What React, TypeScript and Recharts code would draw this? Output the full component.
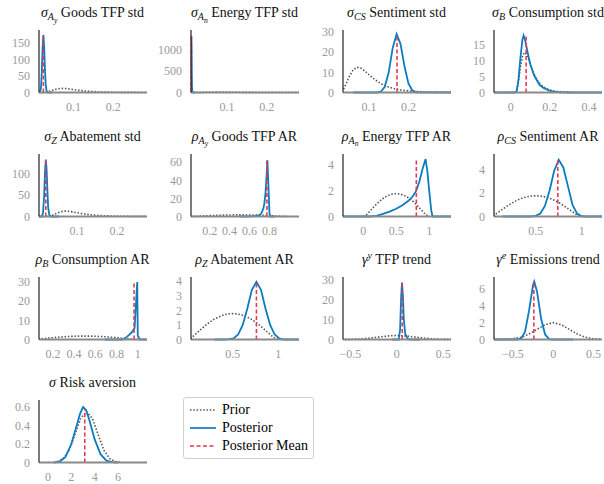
import React from "react";
import { LineChart, Line, XAxis, YAxis, ReferenceLine } from "recharts";

// shared prior densities
const sigmaGrid = [0.005, 0.01, 0.02, 0.03, 0.035, 0.04, 0.05, 0.06, 0.07, 0.08, 0.09, 0.1, 0.11, 0.12, 0.13, 0.14, 0.15, 0.16, 0.17, 0.18, 0.2, 0.22, 0.25, 0.28, 0.31];
const sigmaPrior = [0, 0, 0, 0.4, 1.5, 3.5, 8, 11.3, 12.5, 12, 10.6, 8.8, 7.1, 5.7, 4.4, 3.4, 2.7, 2.1, 1.7, 1.3, 0.8, 0.5, 0.27, 0.15, 0.08];
const rhoGrid = [0, 0.05, 0.1, 0.15, 0.2, 0.25, 0.3, 0.35, 0.4, 0.45, 0.5, 0.55, 0.6, 0.65, 0.7, 0.75, 0.8, 0.85, 0.9, 0.95, 1];
const rhoPrior = [0, 0.13, 0.4, 0.68, 0.95, 1.19, 1.4, 1.56, 1.68, 1.75, 1.77, 1.75, 1.68, 1.56, 1.4, 1.19, 0.95, 0.68, 0.4, 0.13, 0];
const gammaGrid = [-0.7, -0.6, -0.5, -0.4, -0.3, -0.2, -0.1, 0, 0.1, 0.2, 0.3, 0.4, 0.5, 0.6, 0.7];
const gammaPrior = [0.01, 0.03, 0.09, 0.27, 0.65, 1.21, 1.76, 2.0, 1.76, 1.21, 0.65, 0.27, 0.09, 0.03, 0.01];
const riskGrid = [0.8, 1.3, 1.8, 2.3, 2.8, 3.3, 3.8, 4.3, 4.8, 5.3, 5.8, 6.3];
const riskPrior = [0.01, 0.04, 0.13, 0.3, 0.48, 0.55, 0.48, 0.3, 0.13, 0.04, 0.01, 0];

// posterior densities
const sAyX = [0.013, 0.016, 0.018, 0.02, 0.022, 0.024, 0.026, 0.028, 0.03, 0.032, 0.035, 0.045];
const sAyPost = [0, 2, 15, 60, 135, 175, 140, 70, 22, 5, 0.5, 0];
const sAnX = [0.0095, 0.01, 0.0105, 0.011, 0.0115, 0.012, 0.013, 0.02];
const sAnPost = [350, 1050, 1310, 1000, 450, 120, 5, 0];
const sCSX = [0.06, 0.12, 0.13, 0.14, 0.15, 0.16, 0.17, 0.18, 0.19, 0.2, 0.21, 0.22, 0.308];
const sCSPost = [0, 0, 0.4, 2.8, 10, 22, 29, 24, 13, 4.5, 1, 0.1, 0];
const sBX = [-0.085, 0.02, 0.03, 0.04, 0.05, 0.06, 0.066, 0.075, 0.085, 0.1, 0.12, 0.147, 0.17, 0.2, 0.23, 0.26, 0.3, 0.466];
const sBPost = [0, 0, 0.3, 4, 11, 16.5, 17.8, 16, 13, 8.8, 5.3, 2.4, 1.3, 0.5, 0.15, 0.03, 0, 0];
const sZX = [0.005, 0.012, 0.015, 0.018, 0.02, 0.022, 0.024, 0.026, 0.028, 0.031, 0.035, 0.055];
const sZPost = [0, 0, 8, 50, 105, 132, 110, 60, 20, 3, 0, 0];
const rAyX = [0.5, 0.6, 0.65, 0.7, 0.72, 0.74, 0.75, 0.76, 0.77, 0.78, 0.79, 0.8, 0.81, 0.85];
const rAyPost = [0, 0.1, 0.4, 1.5, 3.5, 9, 15, 25, 42, 62, 35, 4, 0, 0];
const rAnX = [-0.306, 0.1, 0.2, 0.3, 0.4, 0.5, 0.6, 0.68, 0.75, 0.8, 0.85, 0.9, 0.945, 0.97, 1.0, 1.03, 1.05, 1.33];
const rAnPost = [0, 0, 0.05, 0.2, 0.38, 0.6, 0.9, 1.2, 1.55, 1.97, 2.7, 3.7, 4.46, 3.6, 2.0, 0.5, 0, 0];
const rCSX = [0.14, 0.45, 0.5, 0.55, 0.6, 0.65, 0.7, 0.75, 0.8, 0.85, 0.9, 0.95, 1.0, 1.05, 1.22];
const rCSPost = [0, 0, 0.05, 0.25, 0.9, 2.2, 3.9, 4.85, 4.2, 2.6, 1.0, 0.25, 0.02, 0, 0];
const rBX = [0.69, 0.8, 0.86, 0.9, 0.94, 0.97, 0.995, 1.0, 1.02, 1.087];
const rBPost = [0, 0, 0, 1.5, 3.5, 6, 30, 2, 0, 0];
const rZX = [0.3, 0.41, 0.46, 0.51, 0.56, 0.61, 0.66, 0.71, 0.76, 0.81, 0.86, 0.91, 0.96, 1.01, 1.06, 1.226];
const rZPost = [0, 0, 0.02, 0.08, 0.34, 1.0, 2.1, 3.4, 3.95, 3.4, 2.1, 1.0, 0.34, 0.08, 0, 0];
const gyX = [-0.05, 0.02, 0.035, 0.045, 0.055, 0.065, 0.075, 0.09, 0.11, 0.13, 0.15, 0.25];
const gyPost = [0, 0, 5, 20, 28.5, 22, 10, 3, 0.8, 0.1, 0, 0];
const geX = [-0.735, -0.45, -0.4, -0.35, -0.3, -0.25, -0.235, -0.2, -0.15, -0.1, -0.05, 0, 0.25];
const gePost = [0, 0, 0.1, 0.9, 3.4, 6.5, 6.9, 5.7, 2.5, 0.6, 0.05, 0, 0];
const riskX = [0.5, 1, 1.5, 2, 2.5, 2.75, 3, 3.25, 3.5, 4, 4.5, 5, 5.5, 6];
const riskPost = [0, 0.01, 0.06, 0.2, 0.42, 0.53, 0.6, 0.57, 0.48, 0.25, 0.09, 0.02, 0.004, 0];

// posterior means and the height the dashed line reaches
const means = [0.024, 0.0104, 0.171, 0.079, 0.022, 0.775, 0.805, 0.74, 0.965, 0.76, 0.058, -0.24, 3.15];
const meanTops = [175, 1310, 29, 17.8, 132, 62, 4.46, 4.85, 30, 3.95, 28.5, 6.9, 0.58];

const BLUE = "#0c7cc0";
const RED = "#ea3650";
const GREY = "#555555";
const SERIF = "'Liberation Serif', 'DejaVu Serif', serif";

const PW = 108;
const PH = 62.5;
const TOP = 8;
const colX = [38.5, 190.5, 342.5, 494];
const rowY = [30.3, 153.5, 276.8, 400];

function Sym({ b, sub, subsub, sup }: { b: string; sub?: string; subsub?: string; sup?: string }) {
  return (
    <span>
      <i>{b}</i>
      {sub && (
        <span style={{ fontSize: "72%", position: "relative", top: "0.3em" }}>
          <i>{sub}</i>
          {subsub && (
            <span style={{ fontSize: "75%", position: "relative", top: "0.3em" }}>
              <i>{subsub}</i>
            </span>
          )}
        </span>
      )}
      {sup && (
        <span style={{ fontSize: "72%", position: "relative", top: "-0.45em" }}>
          <i>{sup}</i>
        </span>
      )}{" "}
    </span>
  );
}

const panels = [
  { title: <><Sym b="σ" sub="A" subsub="y" />Goods TFP std</>, priorX: sigmaGrid, prior: sigmaPrior, postX: sAyX, post: sAyPost, xDomain: [0.013, 0.285], xTicks: [0.1, 0.2], yMax: 190, yTicks: [0, 50, 100, 150] },
  { title: <><Sym b="σ" sub="A" subsub="n" />Energy TFP std</>, priorX: sigmaGrid, prior: sigmaPrior, postX: sAnX, post: sAnPost, xDomain: [0.0095, 0.281], xTicks: [0.1, 0.2], yMax: 1458, yTicks: [0, 500, 1000] },
  { title: <><Sym b="σ" sub="CS" />Sentiment std</>, priorX: sigmaGrid, prior: sigmaPrior, postX: sCSX, post: sCSPost, xDomain: [0.034, 0.308], xTicks: [0.1, 0.2], yMax: 31, yTicks: [0, 10, 20, 30] },
  { title: <><Sym b="σ" sub="B" />Consumption std</>, priorX: sigmaGrid, prior: sigmaPrior, postX: sBX, post: sBPost, xDomain: [-0.085, 0.466], xTicks: [0, 0.2, 0.4], yMax: 19.5, yTicks: [0, 5, 10, 15] },
  { title: <><Sym b="σ" sub="Z" />Abatement std</>, priorX: sigmaGrid, prior: sigmaPrior, postX: sZX, post: sZPost, xDomain: [0.005, 0.275], xTicks: [0.1, 0.2], yMax: 145, yTicks: [0, 50, 100] },
  { title: <><Sym b="ρ" sub="A" subsub="y" />Goods TFP AR</>, priorX: rhoGrid, prior: rhoPrior, postX: rAyX, post: rAyPost, xDomain: [0.013, 1.097], xTicks: [0.2, 0.4, 0.6, 0.8], yMax: 69, yTicks: [0, 20, 40, 60] },
  { title: <><Sym b="ρ" sub="A" subsub="n" />Energy TFP AR</>, priorX: rhoGrid, prior: rhoPrior, postX: rAnX, post: rAnPost, xDomain: [-0.306, 1.33], xTicks: [0, 0.5, 1], yMax: 4.85, yTicks: [0, 2, 4] },
  { title: <><Sym b="ρ" sub="CS" />Sentiment AR</>, priorX: rhoGrid, prior: rhoPrior, postX: rCSX, post: rCSPost, xDomain: [0.047, 1.22], xTicks: [0.5, 1], yMax: 5.35, yTicks: [0, 2, 4] },
  { title: <><Sym b="ρ" sub="B" />Consumption AR</>, priorX: rhoGrid, prior: rhoPrior, postX: rBX, post: rBPost, xDomain: [0.069, 1.087], xTicks: [0.2, 0.4, 0.6, 0.8, 1], yMax: 32.6, yTicks: [0, 10, 20, 30] },
  { title: <><Sym b="ρ" sub="Z" />Abatement AR</>, priorX: rhoGrid, prior: rhoPrior, postX: rZX, post: rZPost, xDomain: [0.044, 1.226], xTicks: [0.5, 1], yMax: 4.28, yTicks: [0, 1, 2, 3, 4] },
  { title: <><Sym b="γ" sup="y" />TFP trend</>, priorX: gammaGrid, prior: gammaPrior, postX: gyX, post: gyPost, xDomain: [-0.58, 0.583], xTicks: [-0.5, 0, 0.5], yMax: 31.3, yTicks: [0, 10, 20, 30] },
  { title: <><Sym b="γ" sup="e" />Emissions trend</>, priorX: gammaGrid, prior: gammaPrior, postX: geX, post: gePost, xDomain: [-0.735, 0.607], xTicks: [-0.5, 0, 0.5], yMax: 7.44, yTicks: [0, 2, 4, 6] },
  { title: <><Sym b="σ" />Risk aversion</>, priorX: riskGrid, prior: riskPrior, postX: riskX, post: riskPost, xDomain: [-0.77, 8.48], xTicks: [0, 2, 4, 6], yMax: 0.677, yTicks: [0, 0.2, 0.4, 0.6] },
];

const fmt = (v: number) => (v < 0 ? "\u2212" + Math.abs(v) : String(v));
const tickStyle = { fill: "#9a9a9a", fontSize: 12, fontFamily: SERIF };

function Panel({ i }: { i: number }) {
  const cfg = panels[i];
  const ax = colX[i % 4];
  const ay = rowY[Math.floor(i / 4)];
  const prior = cfg.priorX.map((x, k) => ({ x, y: cfg.prior[k] }));
  const post = cfg.postX.map((x, k) => ({ x, y: cfg.post[k] }));
  return (
    <>
      <div
        style={{
          position: "absolute",
          left: ax + PW / 2 - 100,
          top: ay - 27,
          width: 200,
          height: 20,
          lineHeight: "20px",
          textAlign: "center",
          fontFamily: SERIF,
          fontSize: 14,
          whiteSpace: "nowrap",
          color: "#111",
        }}
      >
        {cfg.title}
      </div>
      <div style={{ position: "absolute", left: ax - 40, top: ay - TOP }}>
        <LineChart width={40 + PW + 3} height={TOP + PH + 24} margin={{ top: TOP, right: 3, bottom: 0, left: 0 }}>
          <XAxis
            type="number"
            dataKey="x"
            domain={cfg.xDomain}
            ticks={cfg.xTicks}
            allowDataOverflow
            interval={0}
            height={24}
            axisLine={{ stroke: "#8a8a8a", strokeWidth: 2 }}
            tickLine={false}
            tickMargin={4}
            tick={tickStyle}
            tickFormatter={fmt}
          />
          <YAxis
            type="number"
            domain={[0, cfg.yMax]}
            ticks={cfg.yTicks}
            interval={0}
            width={40}
            axisLine={{ stroke: "#222", strokeWidth: 1.2 }}
            tickLine={false}
            tickMargin={3}
            tick={tickStyle}
            tickFormatter={fmt}
          />
          <Line data={prior} dataKey="y" stroke={GREY} strokeWidth={1.6} strokeDasharray="1.5 1.8" dot={false} isAnimationActive={false} />
          <Line data={post} dataKey="y" stroke={BLUE} strokeWidth={1.8} dot={false} isAnimationActive={false} />
          <ReferenceLine
            segment={[{ x: means[i], y: 0 }, { x: means[i], y: meanTops[i] }]}
            stroke={RED}
            strokeWidth={1.6}
            strokeDasharray="4 2.5"
          />
        </LineChart>
      </div>
    </>
  );
}

function LegendBox() {
  const items = [
    { label: "Prior", stroke: GREY, dash: "1.5 1.8" },
    { label: "Posterior", stroke: BLUE, dash: undefined },
    { label: "Posterior Mean", stroke: RED, dash: "4 2.5" },
  ];
  return (
    <div
      style={{
        position: "absolute",
        left: 183,
        top: 397,
        width: 131,
        height: 62,
        boxSizing: "border-box",
        border: "1px solid #cfcfcf",
        borderRadius: 3,
        paddingTop: 3,
        fontFamily: SERIF,
        fontSize: 14,
      }}
    >
      {items.map((it) => (
        <div key={it.label} style={{ display: "flex", alignItems: "center", height: 18 }}>
          <svg width={34} height={10} style={{ marginLeft: 4 }}>
            <line x1={2} x2={28} y1={5} y2={5} stroke={it.stroke} strokeWidth={1.7} strokeDasharray={it.dash} />
          </svg>
          <span>{it.label}</span>
        </div>
      ))}
    </div>
  );
}

export default function App() {
  return (
    <div style={{ position: "absolute", left: 0, top: 0, width: 604, height: 484, background: "#fff" }}>
      {panels.map((_, i) => (
        <Panel key={i} i={i} />
      ))}
      <LegendBox />
    </div>
  );
}
